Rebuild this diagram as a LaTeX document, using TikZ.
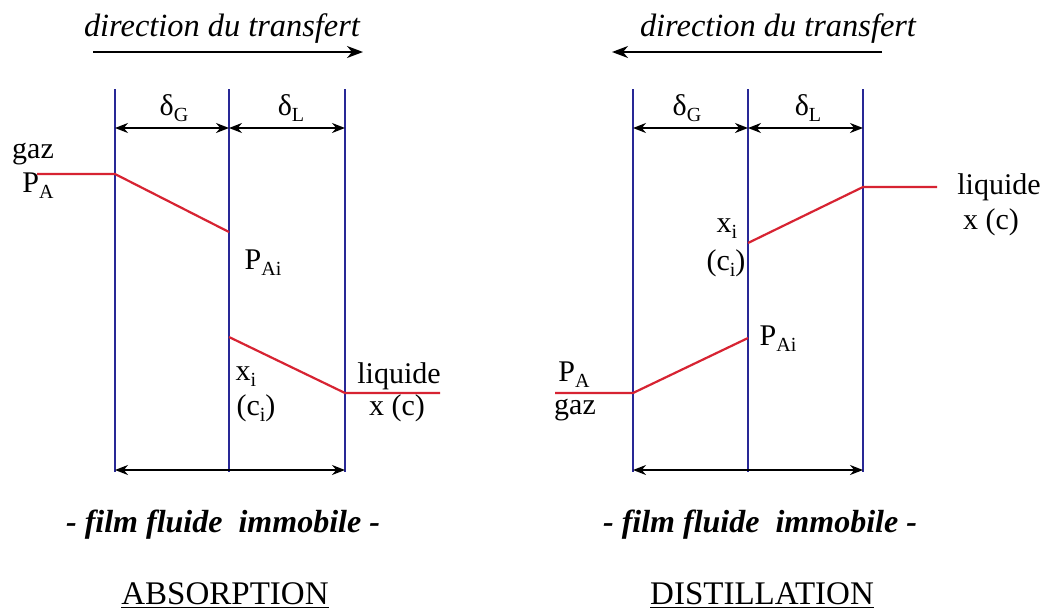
\documentclass[tikz,border=0pt]{standalone}
\usepackage{fontspec}
\setmainfont{Liberation Serif}
\usetikzlibrary{arrows.meta}
\definecolor{wallblue}{RGB}{40,40,150}
\definecolor{profred}{RGB}{215,35,50}
\newcommand\sbs[1]{\raisebox{-0.45ex}{\fontsize{10}{10}\selectfont #1}}
\begin{document}
\begin{tikzpicture}[x=0.5pt,y=-0.5pt,
  wall/.style={draw=wallblue, line width=1.1pt},
  prof/.style={draw=profred, line width=1.1pt},
  dim/.style={draw=black, line width=0.8pt, {Stealth[length=6.5pt,width=5pt]}-{Stealth[length=6.5pt,width=5pt]}},
  dirarrow/.style={draw=black, line width=0.8pt, -{Stealth[length=8pt,width=6pt,inset=2.5pt]}},
  lbl/.style={font=\fontsize{15}{17}\selectfont, inner sep=0pt},
  dirlbl/.style={font=\fontsize{16.2}{18}\selectfont\itshape, inner sep=0pt},
  filmlbl/.style={font=\fontsize{16}{18}\selectfont\bfseries\itshape, inner sep=0pt},
  titlelbl/.style={font=\fontsize{16.5}{18}\selectfont, inner sep=0pt}
]
\useasboundingbox (0,0) rectangle (1053,611);
\fill[white] (0,0) rectangle (1053,611);

% ================= ABSORPTION =================
\node[dirlbl] (dA) at (222,29) {direction du transfert};
\coordinate (dA1) at (93,52);
\coordinate (dA2) at (363,52);
\draw[dirarrow] (dA1) -- (dA2);

\coordinate (a1t) at (115,89); \coordinate (a1b) at (115,472);
\coordinate (a2t) at (229,89); \coordinate (a2b) at (229,472);
\coordinate (a3t) at (345,89); \coordinate (a3b) at (345,472);
\draw[wall] (a1t) -- (a1b);
\draw[wall] (a2t) -- (a2b);
\draw[wall] (a3t) -- (a3b);

\coordinate (aG1) at (115,128); \coordinate (aG2) at (229,128); \coordinate (aL2) at (345,128);
\draw[dim] (aG1) -- (aG2);
\draw[dim] (aG2) -- (aL2);
\node[lbl] (adG) at (174,108) {δ\sbs{G}};
\node[lbl] (adL) at (291,108) {δ\sbs{L}};

\coordinate (aB1) at (115,470); \coordinate (aB2) at (345,470);
\draw[dim] (aB1) -- (aB2);

\coordinate (ar0) at (37,174); \coordinate (ar1) at (115,174); \coordinate (ar2) at (229,232);
\coordinate (ar3) at (229,337); \coordinate (ar4) at (345,393); \coordinate (ar5) at (440,393);
\draw[prof] (ar0) -- (ar1) -- (ar2);
\draw[prof] (ar3) -- (ar4) -- (ar5);

\node[lbl] (agaz) at (33,154) {gaz};
\node[lbl] (aPA) at (38,186) {P\sbs{A}};
\node[lbl] (aPAi) at (263,263) {P\sbs{Ai}};
\node[lbl] (axi) at (246,377) {x\sbs{i}};
\node[lbl] (aci) at (256,408) {(c\sbs{i})};
\node[lbl] (aliq) at (399,376) {liquide};
\node[lbl] (axc) at (397,408) {x (c)};

\node[filmlbl] (afilm) at (223,525) {- film fluide\ \ immobile -};
\node[titlelbl] (atitle) at (225,596) {\underline{ABSORPTION}};

% ================= DISTILLATION =================
\node[dirlbl] (dD) at (778,29) {direction du transfert};
\coordinate (dD1) at (882,52);
\coordinate (dD2) at (612,52);
\draw[dirarrow] (dD1) -- (dD2);

\coordinate (d1t) at (633,89); \coordinate (d1b) at (633,472);
\coordinate (d2t) at (748,89); \coordinate (d2b) at (748,472);
\coordinate (d3t) at (863,89); \coordinate (d3b) at (863,472);
\draw[wall] (d1t) -- (d1b);
\draw[wall] (d2t) -- (d2b);
\draw[wall] (d3t) -- (d3b);

\coordinate (dG1) at (633,128); \coordinate (dG2) at (748,128); \coordinate (dL2) at (863,128);
\draw[dim] (dG1) -- (dG2);
\draw[dim] (dG2) -- (dL2);
\node[lbl] (ddG) at (687,108) {δ\sbs{G}};
\node[lbl] (ddL) at (808,108) {δ\sbs{L}};

\coordinate (dB1) at (633,470); \coordinate (dB2) at (863,470);
\draw[dim] (dB1) -- (dB2);

\coordinate (dr0) at (555,393); \coordinate (dr1) at (633,393); \coordinate (dr2) at (748,338);
\coordinate (dr3) at (748,243); \coordinate (dr4) at (863,187); \coordinate (dr5) at (937,187);
\draw[prof] (dr0) -- (dr1) -- (dr2);
\draw[prof] (dr3) -- (dr4) -- (dr5);

\node[lbl] (dPA) at (574,375) {P\sbs{A}};
\node[lbl] (dgaz) at (575,410) {gaz};
\node[lbl] (dPAi) at (778,339) {P\sbs{Ai}};
\node[lbl] (dxi) at (727,229) {x\sbs{i}};
\node[lbl] (dci) at (726,263) {(c\sbs{i})};
\node[lbl] (dliq) at (999,187) {liquide};
\node[lbl] (dxc) at (991,222) {x (c)};

\node[filmlbl] (dfilm) at (760,525) {- film fluide\ \ immobile -};
\node[titlelbl] (dtitle) at (762,596) {\underline{DISTILLATION}};
\end{tikzpicture}
\end{document}
